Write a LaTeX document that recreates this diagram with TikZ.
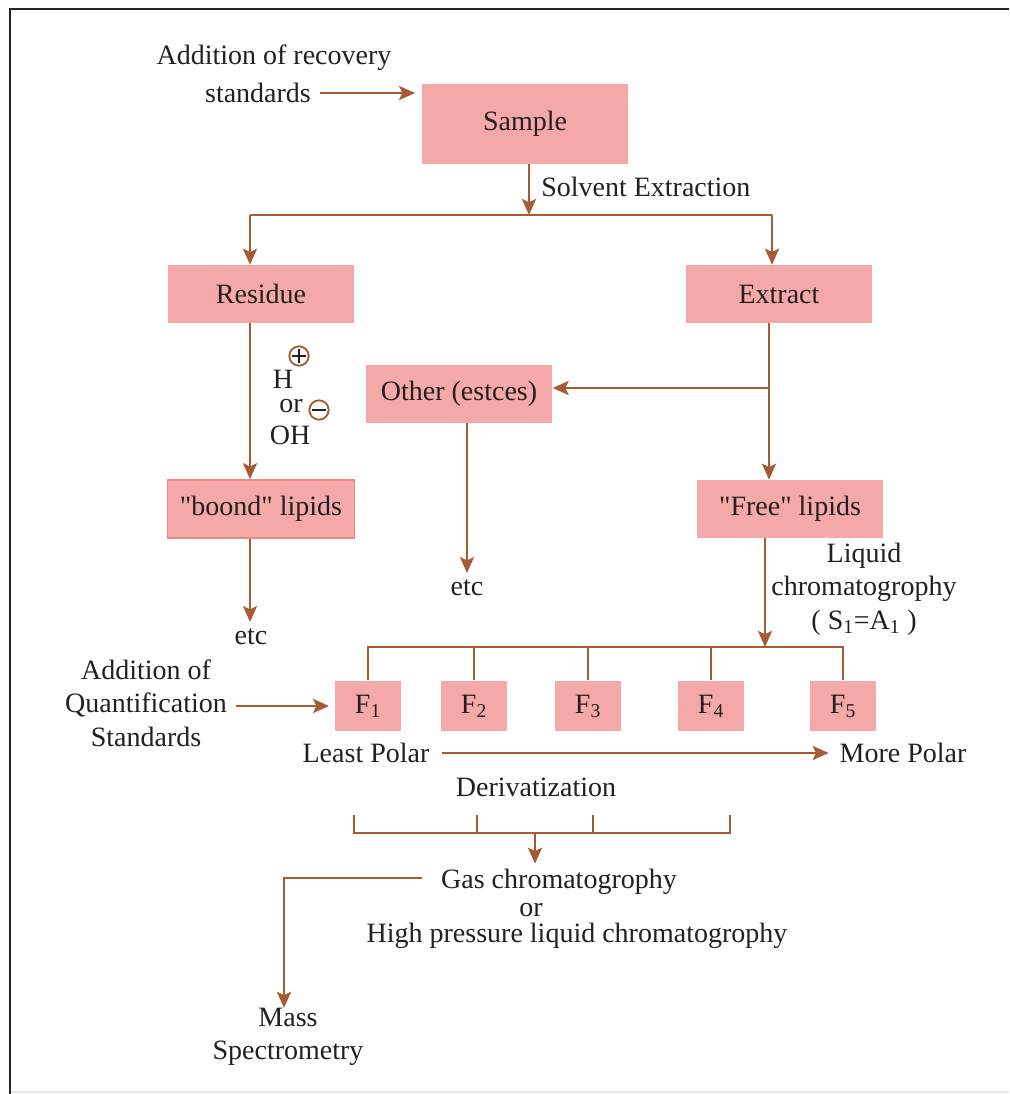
\documentclass[tikz,border=0pt]{standalone}
\usepackage{fontspec}
\setmainfont{Liberation Serif}
\usetikzlibrary{arrows.meta}
\definecolor{vbrown}{HTML}{A65B34}
\definecolor{vpink}{HTML}{F4A9A8}
\definecolor{vsalmon}{HTML}{EF8A80}
\definecolor{vframe}{HTML}{262626}
\definecolor{vtext}{HTML}{231F20}

\tikzset{
	box/.style={fill=vpink, inner sep=0pt, minimum width=140pt, minimum height=43.5pt},
	fbox/.style={fill=vpink, inner sep=0pt, minimum width=50pt, minimum height=38pt},
	lbl/.style={inner sep=0pt, align=center},
	flow/.style={color=vbrown, line width=2pt},
	arr/.style={flow, -{Stealth[length=12pt, width=10.5pt, inset=2.5pt]}},
	charge/.style={circle, draw=vbrown, line width=1.4pt, minimum size=14.5pt, inner sep=0pt},
}

\begin{document}
\begin{tikzpicture}[x=0.75pt, y=-0.75pt, text=vtext, font=\fontsize{21}{25}\selectfont]
		\useasboundingbox (0,0) rectangle (1009,1094);
		% frame
		\draw[color=vframe, line width=2.2pt] (10,1094) -- (10,9) -- (1009,9);
		\draw[color=black!10, line width=1.2pt] (11,1092) -- (1009,1092);
		% boxes
		\node[box, minimum width=154.5pt, minimum height=60pt] (sample) at (525,124) {Sample};
		\node[box] (residue) at (261,294) {Residue};
		\node[box] (extract) at (779,294) {Extract};
		\node[box] (other) at (459,394) {Other (estces)};
		\node[box, draw=vsalmon, line width=1.2pt] (bound) at (261,509) {\textquotedbl boond\textquotedbl{} lipids};
		\node[box] (free) at (790,509) {\textquotedbl Free\textquotedbl{} lipids};
		\foreach \i/\x in {1/368, 2/474, 3/588, 4/711, 5/843}
			\node[fbox] (f\i) at (\x,706) {F\textsubscript{\i}};
		% labels
		\node[lbl] (recovA) at (274,58) {Addition of recovery};
		\node[lbl] (recovB) at (258,93) {standards};
		\node[lbl, anchor=west] (solvent) at (541,187) {Solvent Extraction};
		\node[lbl] (hyd) at (283,379) {H};
		\node[lbl] (orA) at (291,406) {or};
		\node[lbl] (hydrox) at (290,435) {OH};
		\node[lbl] (etcA) at (251,637) {etc};
		\node[lbl] (etcB) at (467,588) {etc};
		\node[lbl] (liquid) at (864,589) {Liquid\\chromatogrophy\\( S\textsubscript{1}=A\textsubscript{1} )};
		\node[lbl] (quant) at (146,703) {Addition of\\Quantification\\Standards};
		\node[lbl] (least) at (366,753) {Least Polar};
		\node[lbl] (more) at (903,753) {More Polar};
		\node[lbl] (deriv) at (536,787) {Derivatization};
		\node[lbl] (gas) at (559,882) {Gas chromatogrophy};
		\node[lbl] (orB) at (531,910) {or};
		\node[lbl] (hplc) at (577,936) {High pressure liquid chromatogrophy};
		\node[lbl] (mass) at (288,1037) {Mass\\Spectrometry};
		% charges
		\node[charge] (plus) at (299,356) {};
		\node[charge] (minus) at (319,410) {};
		\draw[color=vtext, line width=0.8pt] ([xshift=-5pt]plus.center) -- ([xshift=5pt]plus.center);
		\draw[color=vtext, line width=0.8pt] ([yshift=-5pt]plus.center) -- ([yshift=5pt]plus.center);
		\draw[color=vtext, line width=0.8pt] ([xshift=-5pt]minus.center) -- ([xshift=5pt]minus.center);
		% junctions
		\coordinate (split) at (529,215);
		\coordinate (splitL) at (250,215);
		\coordinate (splitR) at (772,215);
		\coordinate (branch) at (769,388);
		\coordinate (fraction) at (765,647);
		\coordinate (collect) at (535,833);
		\coordinate (turn) at (284,878);
		\path (turn -| gas.west) ++(-14pt,0pt) coordinate (gasin);
		% connectors
		\draw[arr, shorten <=7pt, shorten >=5pt] (recovB.east) -- (sample.west |- recovB.east);
		\draw[arr] (sample.south -| split) -- (split);
		\draw[flow] (splitL) -- (splitR);
		\draw[arr] (splitL) -- (splitL |- residue.north);
		\draw[arr] (splitR) -- (splitR |- extract.north);
		\draw[arr] (residue.south -| splitL) -- (bound.north -| splitL);
		\draw[arr, shorten >=5pt] (bound.south -| splitL) -- (etcA.north -| splitL);
		\draw[arr] (extract.south -| branch) -- (free.north -| branch);
		\draw[arr] (branch) -- (other.east |- branch);
		\draw[arr, shorten >=5pt] (other.south -| etcB) -- (etcB.north);
		\draw[arr] (free.south -| fraction) -- (fraction);
		\draw[flow] (f1.north) |- (fraction) -| (f5.north);
		\foreach \i in {2,3,4}
			\draw[flow] (f\i.north) -- (f\i.north |- fraction);
		\draw[arr, shorten <=7pt, shorten >=4pt] (quant.east |- f1.west) -- (f1.west);
		\draw[arr, shorten <=9pt, shorten >=8pt] (least.east) -- (more.west);
		\draw[flow] (354,815) -- (354,833) -- (730,833) -- (730,815);
		\foreach \x in {477, 593}
			\draw[flow] (\x,815) -- (\x,833);
		\draw[arr, shorten >=4pt] (collect) -- (collect |- gas.north);
		\draw[arr] (gasin) -- (turn) -- (turn |- mass.north);
	\end{tikzpicture}
\end{document}
